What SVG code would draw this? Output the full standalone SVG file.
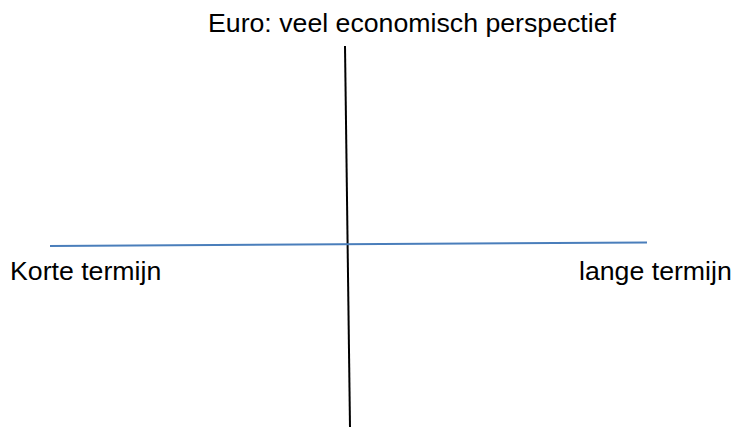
<svg xmlns="http://www.w3.org/2000/svg" width="736" height="427" viewBox="0 0 736 427">
<style>
.t{font-family:"Liberation Sans",Arial,sans-serif;font-size:26.7px;fill:#000}
</style>
<rect width="736" height="427" fill="#fff"/>
<g id="connectors">
<line x1="345" y1="46" x2="350" y2="427" stroke="#000" stroke-width="2"/>
<line x1="50" y1="246" x2="647" y2="242.5" stroke="#4a7ebb" stroke-width="2"/>
</g>
<g id="top"><text class="t" x="208" y="32">Euro: veel economisch perspectief</text></g>
<g id="left"><text class="t" x="10" y="279.5">Korte termijn</text></g>
<g id="right"><text class="t" x="579" y="279.5">lange termijn</text></g>
</svg>
